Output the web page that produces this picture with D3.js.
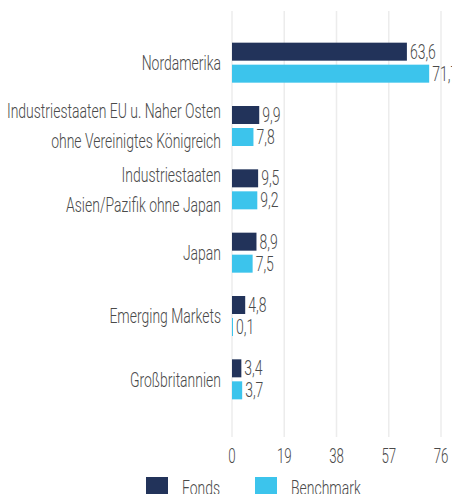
<!DOCTYPE html>
<html><head><meta charset="utf-8">
<script src="https://cdn.jsdelivr.net/npm/d3@7"></script>
<style>html,body{margin:0;padding:0;background:#fff;}svg{display:block;}</style>
</head><body>
<script>
const categories = ["Nordamerika", "Industriestaaten EU u. Naher Osten\nohne Vereinigtes Königreich", "Industriestaaten\nAsien/Pazifik ohne Japan", "Japan", "Emerging Markets", "Großbritannien"];
const fonds = [63.6, 9.9, 9.5, 8.9, 4.8, 3.4];
const benchmark = [71.7, 7.8, 9.2, 7.5, 0.1, 3.7];
const tickValues = [0, 19, 38, 57, 76];
const seriesNames = ["Fonds", "Benchmark"];
const colors = ["#22335a", "#3cc4ec"];

const W = 452, H = 494;
const SX = 0.665;
const FONT = "Roboto, 'Liberation Sans', sans-serif";
const TXT = "#4a4a4a";

const svg = d3.select("body").append("svg").attr("width", W).attr("height", H);

const x = d3.scaleLinear().domain([0, 76]).range([232, 441]);
const y = d3.scaleBand().domain(d3.range(categories.length)).range([31, 411]);

function txt(g, px, py, s, anchor, size, sx) {
  return g.append("text")
    .attr("transform", `translate(${px},${py}) scale(${sx || SX},1)`)
    .attr("text-anchor", anchor)
    .attr("dy", "0.35em")
    .attr("font-family", FONT)
    .attr("font-weight", 300)
    .attr("font-size", size)
    .attr("fill", TXT)
    .text(s);
}

// gridlines
svg.append("g").selectAll("line").data(tickValues).join("line")
  .attr("x1", d => x(d)).attr("x2", d => x(d))
  .attr("y1", 11).attr("y2", 437)
  .attr("stroke", "#ececec").attr("stroke-width", 1.5);

// tick labels
const tg = svg.append("g");
tickValues.forEach(t => txt(tg, x(t), 456, String(t), "middle", 20));

const fmt = v => d3.format(".1f")(v).replace(".", ",");
const barH = 18;

const bg = svg.append("g");
const lg = svg.append("g");
categories.forEach((c, i) => {
  const cy = y(i) + y.bandwidth() / 2;
  [fonds[i], benchmark[i]].forEach((v, k) => {
    const top = k === 0 ? cy - 20 : cy + 2;
    const w = Math.max(1, x(v) - x(0));
    bg.append("rect").attr("x", x(0)).attr("y", top).attr("width", w).attr("height", barH).attr("fill", colors[k]);
    txt(lg, x(0) + w + 3, top + barH / 2, fmt(v), "start", 20, 0.7);
  });
  const lines = c.split("\n");
  if (lines.length === 1) {
    txt(lg, 221, cy, lines[0], "end", 21);
  } else {
    txt(lg, 221, cy - 15, lines[0], "end", 21);
    txt(lg, 221, cy + 15, lines[1], "end", 21);
  }
});

// legend
const leg = svg.append("g");
const legX = [146, 255];
seriesNames.forEach((n, k) => {
  leg.append("rect").attr("x", legX[k]).attr("y", 477).attr("width", 22).attr("height", 22).attr("fill", colors[k]);
  txt(leg, legX[k] + 36, 488, n, "start", 21);
});
</script>
</body></html>
